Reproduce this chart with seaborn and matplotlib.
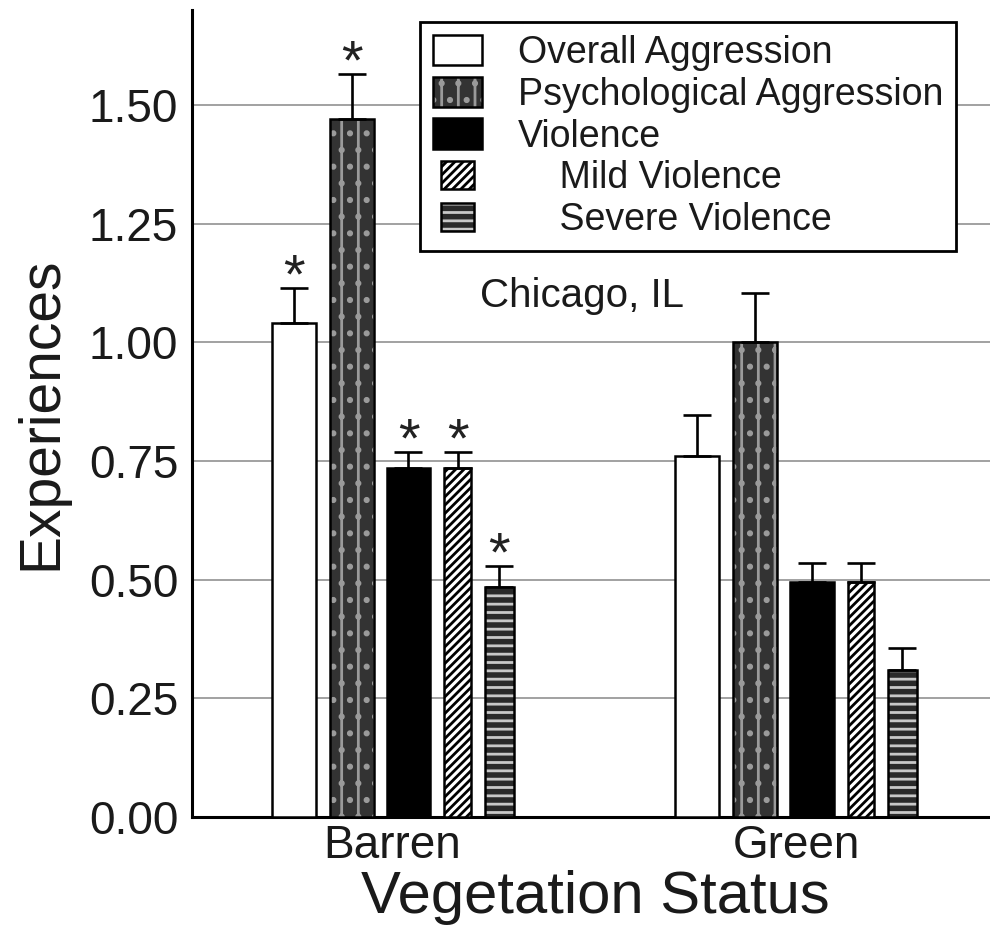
import numpy as np
import pandas as pd
import matplotlib
matplotlib.use("Agg")
import matplotlib.pyplot as plt
from matplotlib.patches import Rectangle
from matplotlib.legend_handler import HandlerPatch
import seaborn as sns

# ---------------- data ----------------
status = ["Barren", "Green"]
measures = ["Overall Aggression", "Psychological Aggression", "Violence",
            "Mild Violence", "Severe Violence"]
legend_labels = ["Overall Aggression", "Psychological Aggression", "Violence",
                 "    Mild Violence", "    Severe Violence"]
barren_means = [1.04, 1.47, 0.735, 0.735, 0.485]
barren_err = [0.074, 0.095, 0.034, 0.034, 0.044]
green_means = [0.76, 1.00, 0.495, 0.495, 0.31]
green_err = [0.088, 0.104, 0.041, 0.041, 0.045]
barren_sig = [True, True, True, True, True]
green_sig = [False, False, False, False, False]
y_ticks = [0.00, 0.25, 0.50, 0.75, 1.00, 1.25, 1.50]
annotation = "Chicago, IL"

# ---------------- layout / style ----------------
bar_left = [-0.300, -0.156, -0.015, 0.128, 0.228]   # offset of bar left edge from category centre
bar_width = [0.109, 0.109, 0.109, 0.066, 0.072]
styles = [
    dict(fc="white", hatch=None, hc=None),
    dict(fc="#333333", hatch="|.", hc="#9a9a9a"),
    dict(fc="black", hatch=None, hc=None),
    dict(fc="white", hatch="////", hc="black"),
    dict(fc="#2a2a2a", hatch="--", hc="#c8c8c8"),
]

sns.set_style("white")
plt.rcParams["font.family"] = ["Liberation Sans", "DejaVu Sans"]
plt.rcParams["hatch.linewidth"] = 2.0

df = pd.DataFrame({
    "status": np.repeat(status, len(measures)),
    "measure": measures * len(status),
    "value": barren_means + green_means,
})

fig = plt.figure(figsize=(9.9, 9.31), dpi=100)
ax = fig.add_axes([0.194, 0.1225, 0.806, 0.8665])

sns.barplot(data=df, x="status", y="value", hue="measure", order=status,
            hue_order=measures, dodge=True, errorbar=None, width=0.6,
            legend=False, ax=ax, zorder=3)

means = [barren_means, green_means]
errs = [barren_err, green_err]
sigs = [barren_sig, green_sig]

bar_containers = list(ax.containers)
for i, cont in enumerate(bar_containers):
    st = styles[i]
    for j, p in enumerate(cont.patches):
        p.set_x(j + bar_left[i])
        p.set_width(bar_width[i])
        p.set_facecolor(st["fc"])
        p.set_edgecolor("black")
        p.set_linewidth(1.8)
        if st["hatch"]:
            p.set_hatch(st["hatch"])
            p._hatch_color = matplotlib.colors.to_rgba(st["hc"])
        cx = j + bar_left[i] + bar_width[i] / 2
        ax.errorbar(cx, means[j][i], yerr=[[0], [errs[j][i]]], fmt="none",
                    ecolor="black", elinewidth=1.9, capsize=10, capthick=1.9,
                    zorder=4)
        if sigs[j][i]:
            ax.annotate("*", (cx, means[j][i] + errs[j][i]),
                        xytext=(0, -3), textcoords="offset points",
                        ha="center", va="baseline", fontsize=40,
                        color="#222222")

ax.set_xlim(-0.497, 1.481)
ax.set_ylim(0, 1.70)
ax.set_yticks(y_ticks)
ax.set_yticklabels([f"{v:.2f}" for v in y_ticks])
ax.yaxis.grid(True, color="#9a9a9a", linewidth=1.3)
ax.xaxis.grid(False)
ax.set_axisbelow(True)
ax.tick_params(axis="y", length=0, pad=10, labelsize=33, colors="#1a1a1a")
ax.tick_params(axis="x", length=0, pad=5, labelsize=33, colors="#1a1a1a")
for s in ["top", "right"]:
    ax.spines[s].set_visible(False)
for s in ["left", "bottom"]:
    ax.spines[s].set_color("black")
    ax.spines[s].set_linewidth(2.2)

ax.set_xlabel("Vegetation Status", fontsize=43, color="#1a1a1a")
ax.set_ylabel("Experiences", fontsize=41, color="#1a1a1a")
ax.xaxis.set_label_coords(0.505, -0.066)
ax.yaxis.set_label_coords(-0.155, 0.5)

ax.text(0.47, 1.098, annotation, ha="center", va="center", fontsize=29,
        color="#1a1a1a")

# ---------------- legend ----------------
class SizedHandler(HandlerPatch):
    def __init__(self, frac_w, frac_h, **kw):
        super().__init__(**kw)
        self.fw, self.fh = frac_w, frac_h

    def create_artists(self, legend, orig_handle, xdescent, ydescent, width,
                       height, fontsize, trans):
        w = width * self.fw
        h = height * self.fh
        x0 = -xdescent + (width - w) / 2
        y0 = -ydescent + (height - h) / 2
        r = Rectangle((x0, y0), w, h)
        self.update_prop(r, orig_handle, legend)
        r._hatch_color = getattr(orig_handle, "_hatch_color", r._hatch_color)
        r.set_transform(trans)
        return [r]

handles = []
hmap = {}
for i, st in enumerate(styles):
    h = Rectangle((0, 0), 1, 1, facecolor=st["fc"], edgecolor="black",
                  linewidth=1.8, hatch=st["hatch"])
    if st["hc"]:
        h._hatch_color = matplotlib.colors.to_rgba(st["hc"])
    handles.append(h)
    small = i >= 3
    hmap[h] = SizedHandler(0.68 if small else 1.0, 0.92 if small else 1.0)

leg = ax.legend(handles, legend_labels, handler_map=hmap, loc="upper left",
                bbox_to_anchor=(420 / 990, 1 - 22 / 931),
                bbox_transform=fig.transFigure, fontsize=27, frameon=True,
                fancybox=False, framealpha=1, edgecolor="black",
                handlelength=1.3, handleheight=0.86, handletextpad=0.95,
                labelspacing=0.15, borderpad=0.35, borderaxespad=0)
leg.get_frame().set_linewidth(2.0)
for t in leg.get_texts():
    t.set_color("#1a1a1a")
leg.set_zorder(10)

fig.savefig("out.png", dpi=100)
